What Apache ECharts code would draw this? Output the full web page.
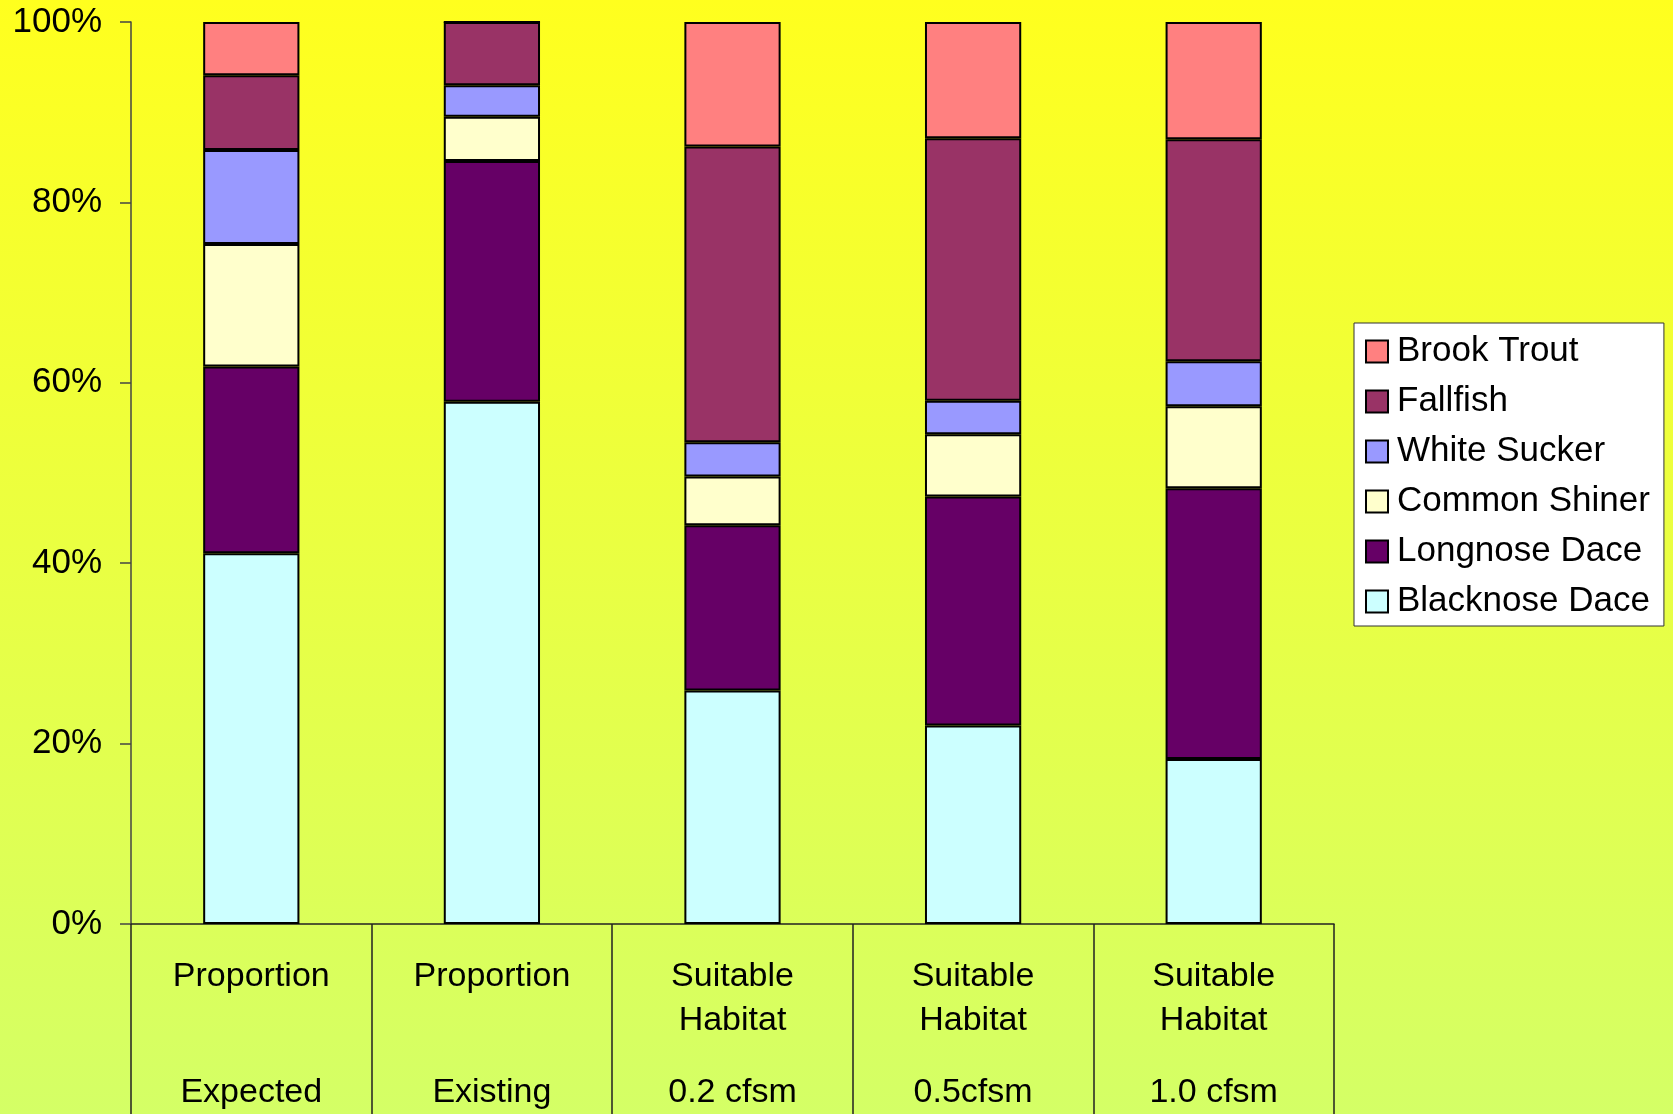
<!DOCTYPE html>
<html>
<head>
<meta charset="utf-8">
<script src="https://cdn.jsdelivr.net/npm/echarts@6/dist/echarts.min.js"></script>
<style>
  html, body { margin: 0; padding: 0; }
  #chart { width: 1673px; height: 1114px; }
</style>
</head>
<body>
<div id="chart"></div>
<script>
// Fish community composition (% of total) per scenario
const categories = [
  ['Proportion', '', 'Expected'],
  ['Proportion', '', 'Existing'],
  ['Suitable', 'Habitat', '0.2 cfsm'],
  ['Suitable', 'Habitat', '0.5cfsm'],
  ['Suitable', 'Habitat', '1.0 cfsm']
];

// Stacked from the bottom up
const blacknoseDace = [41.1, 57.9, 25.9, 22.0, 18.3];
const longnoseDace  = [20.7, 26.7, 18.3, 25.4, 30.0];
const commonShiner  = [13.6, 4.9, 5.4, 6.9, 9.1];
const whiteSucker   = [10.4, 3.5, 3.8, 3.7, 5.0];
const fallfish      = [8.3, 7.0, 32.8, 29.1, 24.6];
const brookTrout    = [5.9, 0, 13.8, 12.9, 13.0];

const yTicks = [0, 20, 40, 60, 80, 100];

const seriesDefs = [
  { name: 'Blacknose Dace', data: blacknoseDace, color: '#CCFFFF' },
  { name: 'Longnose Dace',  data: longnoseDace,  color: '#660066' },
  { name: 'Common Shiner',  data: commonShiner,  color: '#FFFFCC' },
  { name: 'White Sucker',   data: whiteSucker,   color: '#9999FF' },
  { name: 'Fallfish',       data: fallfish,      color: '#993366' },
  { name: 'Brook Trout',    data: brookTrout,    color: '#FF8080' }
];

const FONT = '"Liberation Sans", Arial, sans-serif';
const chart = echarts.init(document.getElementById('chart'), null, { renderer: 'canvas' });

chart.setOption({
  animation: false,
  backgroundColor: {
    type: 'linear', x: 0, y: 0, x2: 0, y2: 1,
    colorStops: [
      { offset: 0, color: '#FFFF1E' },
      { offset: 1, color: '#D4FF66' }
    ]
  },
  grid: { left: 131, right: 339, top: 22, bottom: 190, containLabel: false },
  legend: {
    data: seriesDefs.map(s => s.name).reverse(),
    orient: 'vertical',
    left: 1354,
    top: 323,
    backgroundColor: '#FFFFFF',
    borderColor: '#333333',
    borderWidth: 1,
    padding: [11, 14, 7, 11],
    itemWidth: 22,
    itemHeight: 22,
    itemGap: 15,
    icon: 'rect',
    itemStyle: { borderColor: '#000', borderWidth: 2 },
    textStyle: { fontFamily: FONT, fontSize: 35, color: '#000', padding: [0, 0, 0, 4] },
    selectedMode: false
  },
  xAxis: {
    type: 'category',
    data: categories.map(c => c.join('|')),
    boundaryGap: true,
    axisLine: { show: true, lineStyle: { color: '#222', width: 1.5 } },
    axisTick: { show: true, alignWithLabel: false, length: 200, lineStyle: { color: '#222', width: 1.5 } },
    axisLabel: {
      margin: 31,
      interval: 0,
      fontFamily: FONT,
      formatter: function (v) {
        const p = v.split('|');
        return '{a|' + p[0] + '}\n{a|' + (p[1] || ' ') + '}\n{b|' + p[2] + '}';
      },
      rich: {
        a: { fontFamily: FONT, fontSize: 34, lineHeight: 44, color: '#000', align: 'center' },
        b: { fontFamily: FONT, fontSize: 34, lineHeight: 100, color: '#000', align: 'center' }
      }
    },
    splitLine: { show: false }
  },
  yAxis: {
    type: 'value',
    min: yTicks[0],
    max: yTicks[yTicks.length - 1],
    interval: 20,
    axisLine: { show: true, lineStyle: { color: '#444', width: 1.5 } },
    axisTick: { show: true, length: 11, lineStyle: { color: '#444', width: 1.5 } },
    axisLabel: {
      margin: 29,
      fontFamily: FONT,
      fontSize: 35,
      color: '#000',
      formatter: '{value}%'
    },
    splitLine: { show: false }
  },
  series: seriesDefs.map(s => ({
    name: s.name,
    type: 'bar',
    stack: 'total',
    barWidth: '40%',
    data: s.data,
    itemStyle: { color: s.color, borderColor: '#000', borderWidth: 2 }
  }))
});
</script>
</body>
</html>
